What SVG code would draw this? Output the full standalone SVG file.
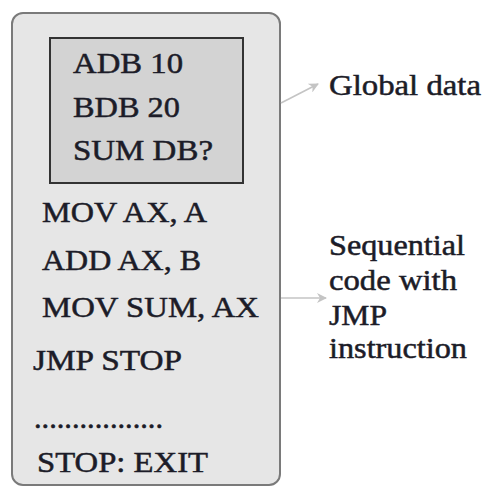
<svg xmlns="http://www.w3.org/2000/svg" width="483" height="487" viewBox="0 0 483 487">
<style>
text{font-family:"Liberation Serif","Times New Roman",serif;font-size:29.5px;fill:#1c1c28;stroke:#1c1c28;stroke-width:0.5}
.conn{stroke:#c4c4c4;stroke-width:1.6;fill:none}
</style>
<defs>
<marker id="ah" viewBox="0 0 10 10" refX="9" refY="5" markerWidth="13" markerHeight="10" markerUnits="userSpaceOnUse" orient="auto">
<path d="M0,0 L10,5 L0,10 L3,5 Z" fill="#c4c4c4"/>
</marker>
</defs>
<rect width="483" height="487" fill="#fff"/>
<g id="program">
<rect x="12" y="13" width="268" height="472" rx="11" fill="#e6e6e6" stroke="#7a7a7a" stroke-width="2"/>
<text x="42" y="222" textLength="165" lengthAdjust="spacingAndGlyphs">MOV AX, A</text>
<text x="42" y="270" textLength="159" lengthAdjust="spacingAndGlyphs">ADD AX, B</text>
<text x="42" y="317" textLength="217" lengthAdjust="spacingAndGlyphs">MOV SUM, AX</text>
<text x="33" y="370" textLength="149" lengthAdjust="spacingAndGlyphs">JMP STOP</text>
<text x="34" y="428" textLength="129" lengthAdjust="spacingAndGlyphs">.................</text>
<text x="37" y="472" textLength="171" lengthAdjust="spacingAndGlyphs">STOP: EXIT</text>
</g>
<g id="global-block">
<rect x="50" y="38" width="193" height="145" fill="#d3d3d3" stroke="#333" stroke-width="2"/>
<text x="73" y="73" textLength="110" lengthAdjust="spacingAndGlyphs">ADB 10</text>
<text x="73" y="117" textLength="107" lengthAdjust="spacingAndGlyphs">BDB 20</text>
<text x="73" y="160" textLength="140" lengthAdjust="spacingAndGlyphs">SUM DB?</text>
</g>
<g id="label-global">
<text x="329" y="95" textLength="152" lengthAdjust="spacingAndGlyphs">Global data</text>
</g>
<g id="label-sequential">
<text x="329" y="255" textLength="136" lengthAdjust="spacingAndGlyphs">Sequential</text>
<text x="329" y="290" textLength="128" lengthAdjust="spacingAndGlyphs">code with</text>
<text x="329" y="325" textLength="58" lengthAdjust="spacingAndGlyphs">JMP</text>
<text x="329" y="358" textLength="138" lengthAdjust="spacingAndGlyphs">instruction</text>
</g>
<g id="connectors">
<line class="conn" x1="281" y1="103" x2="318" y2="84" marker-end="url(#ah)"/>
<line class="conn" x1="281" y1="298" x2="326" y2="298" marker-end="url(#ah)"/>
</g>
</svg>
